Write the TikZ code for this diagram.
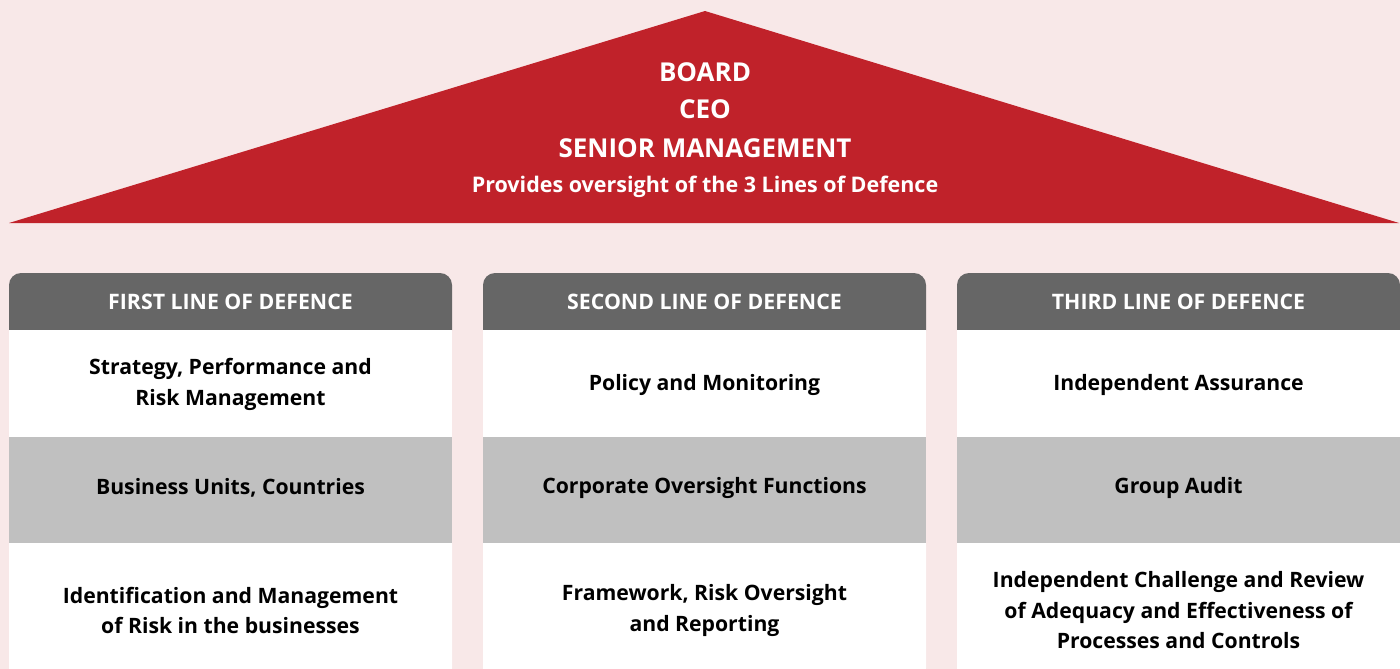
\documentclass[tikz,border=0pt]{standalone}
\usepackage{fontspec}
\setmainfont{Open Sans}
\definecolor{bgpink}{HTML}{F8E8E8}
\definecolor{roofred}{HTML}{C0222A}
\definecolor{hdrgray}{HTML}{666666}
\definecolor{rowgray}{HTML}{C0C0C0}

\begin{document}
\begin{tikzpicture}[x=1pt,y=-1pt,
  roof/.style={text=white, font=\bfseries\fontsize{26}{30}\selectfont},
  hdr/.style={text=white, font=\bfseries\fontsize{21.3}{24}\selectfont},
  cell/.style={text=black, align=center, font=\bfseries\fontsize{21.2}{30.5}\selectfont}]
\useasboundingbox (0,0) rectangle (1400,669);
\fill[bgpink] (0,0) rectangle (1400,669);
% roof
\fill[roofred] (9,223) -- (705,11) -- (1399,223) -- cycle;
\node[roof] (board) at (705,72) {BOARD};
\node[roof] (ceo) at (705,109) {CEO};
\node[roof] (senior) at (705,148) {SENIOR MANAGEMENT};
\node[roof, font=\bfseries\fontsize{21.5}{24}\selectfont] (oversight) at (705,187) {Provides oversight of the 3 Lines of Defence};
% three pillars: header, white row, grey row, white row
\foreach \col/\x/\head/\ra/\rb/\rc in {
  first/9/FIRST LINE OF DEFENCE/{Strategy, Performance and\\Risk Management}/{Business Units, Countries}/{Identification and Management\\of Risk in the businesses},
  second/483/SECOND LINE OF DEFENCE/{Policy and Monitoring}/{Corporate Oversight Functions}/{Framework, Risk Oversight\\and Reporting},
  third/957/THIRD LINE OF DEFENCE/{Independent Assurance}/{Group Audit}/{Independent Challenge and Review\\of Adequacy and Effectiveness of\\Processes and Controls}} {
  \fill[hdrgray, rounded corners=12pt] (\x,330) -- (\x,273) -- (\x+443,273) -- (\x+443,330);
  \fill[white] (\x,330) rectangle (\x+443,437);
  \fill[rowgray] (\x,437) rectangle (\x+443,543);
  \fill[white, rounded corners=8pt] (\x,543) -- (\x,676) -- (\x+443,676) -- (\x+443,543);
  \node[hdr] (\col-head) at (\x+221.5,302) {\head};
  \node[cell] (\col-top) at (\x+221.5,384.5) {\ra};
  \node[cell] (\col-mid) at (\x+221.5,488) {\rb};
  \node[cell] (\col-bot) at (\x+221.5,610.5) {\rc};
}
\end{tikzpicture}
\end{document}
